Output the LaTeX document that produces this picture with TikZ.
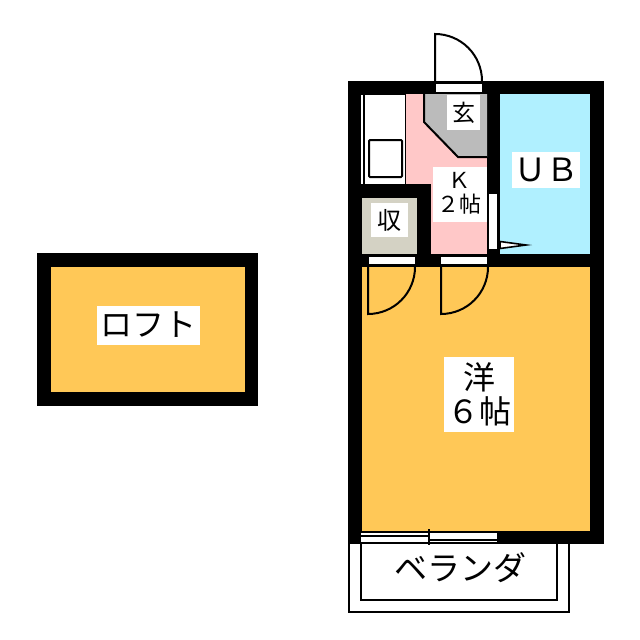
\documentclass[tikz,border=0pt]{standalone}
\usepackage{fontspec}
\setmainfont{Noto Sans CJK JP}
\definecolor{ora}{HTML}{FFC857}
\definecolor{pnk}{HTML}{FFC8C8}
\definecolor{blu}{HTML}{B0F0FF}
\definecolor{gry}{HTML}{BBBBBB}
\definecolor{stor}{HTML}{D4D2C4}
\tikzset{
  wall/.style={fill=black,draw=none},
  wht/.style={fill=white,draw=none},
  thin line/.style={draw=black,line width=2pt},
  lbl/.style={inner sep=0pt,text=black,align=center},
}
\begin{document}
\begin{tikzpicture}[x=1pt,y=-1pt]
\useasboundingbox (0,0) rectangle (640,640);
\fill[white] (0,0) rectangle (640,640);
% loft
\fill[wall] (37,253) rectangle (258,406);
\fill[ora] (51,267) rectangle (245,392);
\fill[wht] (97,306) rectangle (200,345);
\node[lbl,font=\fontsize{32}{32}\selectfont] (loft) at (148.5,325) {ロフト};
% balcony
\draw[thin line] (349,540) -- (349,612) -- (569,612) -- (569,540);
\draw[thin line] (361,540) -- (361,600) -- (557,600) -- (557,540);
% main walls
\fill[wall] (348,81) rectangle (604,544);
\fill[ora] (362,267) rectangle (590,531);
\fill[blu] (500,94) rectangle (590,254);
\fill[pnk] (406,94) rectangle (487,184);
\fill[pnk] (431,184) rectangle (487,254);
\fill[stor] (362,198) rectangle (417,254);
% kitchen fixture
\fill[wht] (361,95) rectangle (405,184);
\draw[black,line width=2pt] (364,95) -- (364,184);
\draw[black,line width=2pt,rounded corners=1pt] (369,140) rectangle (402,177);
% genkan
\fill[gry] (424,94) -- (487,94) -- (487,157) -- (458,157) -- (424,122) -- cycle;
\draw[black,line width=2pt] (424,94) -- (424,122) -- (458,157) -- (487,157);
% door openings
\fill[wht] (436,84) rectangle (482,92);
\fill[wht] (369,257) rectangle (415,264);
\fill[wht] (441,257) rectangle (487,264);
\fill[wht] (489,194) rectangle (497,249);
% doors
\coordinate (d1a) at (435,81); \coordinate (d1b) at (435,34);
\draw[thin line] (d1a) -- (d1b) arc[start angle=-90,end angle=0,radius=47];
\coordinate (d2a) at (368,267); \coordinate (d2b) at (368,314);
\draw[thin line] (d2a) -- (d2b) arc[start angle=90,end angle=0,radius=47];
\coordinate (d3a) at (441,267); \coordinate (d3b) at (441,314);
\draw[thin line] (d3a) -- (d3b) arc[start angle=90,end angle=0,radius=47];
\draw[black,fill=white,line width=1.6pt,line join=miter] (500,241.5) -- (526,245) -- (500,248.5) -- cycle;
% window
\fill[wht] (361,533) rectangle (497,542);
\draw[black,line width=2pt] (361,535.5) -- (430,535.5);
\draw[black,line width=2pt] (428,539.5) -- (497,539.5);
\draw[black,line width=2pt] (429,529) -- (429,545);
% labels
\fill[wht] (447,95) rectangle (480,130);
\node[lbl,font=\fontsize{23}{23}\selectfont] (gen) at (463.5,113) {玄};
\fill[wht] (433,167) rectangle (487,222);
\node[lbl,font=\fontsize{22}{24}\selectfont] (kit) at (459,193.5) {Ｋ\\２帖};
\fill[wht] (512,152) rectangle (580,188);
\node[lbl,font=\fontsize{32}{32}\selectfont] (ub) at (546,170) {ＵＢ};
\fill[wht] (371,203) rectangle (408,237);
\node[lbl,font=\fontsize{24}{24}\selectfont] (shu) at (389.5,220) {収};
\fill[wht] (444,357) rectangle (514,432);
\node[lbl,font=\fontsize{32}{34}\selectfont] (yo) at (479,394.5) {洋\\６帖};
\node[lbl,font=\fontsize{33}{33}\selectfont] (ver) at (460,567.5) {ベランダ};
\end{tikzpicture}
\end{document}
